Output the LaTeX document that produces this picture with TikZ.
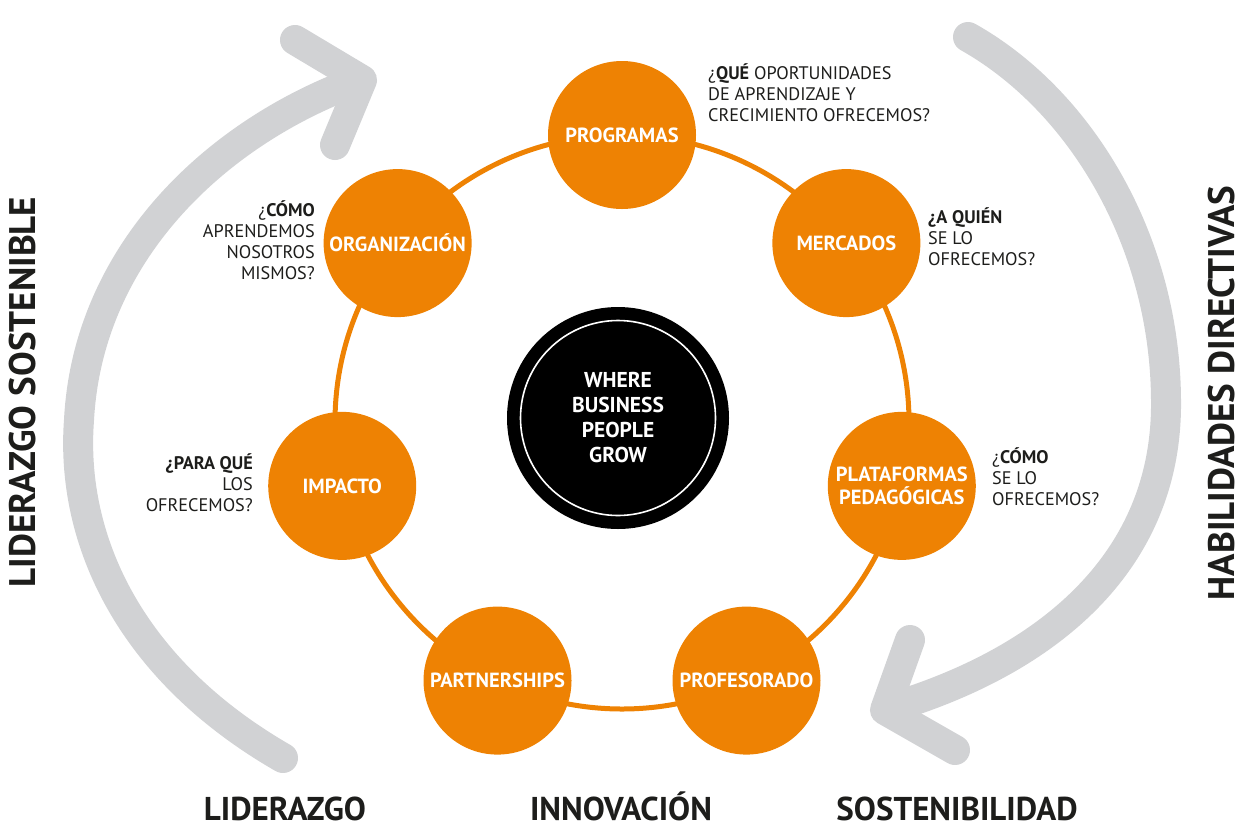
\documentclass[tikz,border=0pt]{standalone}
\usepackage{fontspec}
\setmainfont{PT Sans}
\definecolor{naranja}{HTML}{EE8203}
\definecolor{gris}{HTML}{D1D2D4}
\definecolor{tinta}{HTML}{1D1D1B}

\begin{document}
\begin{tikzpicture}[x=1pt,y=-1pt,
    flecha/.style={draw=gris,line width=30pt,line cap=round,line join=round},
    eje/.style={circle,fill=naranja,minimum size=148pt,inner sep=0pt,text=white,
        font=\bfseries\fontsize{20.5}{23}\selectfont,align=center},
    pregunta/.style={inner sep=0pt,text=tinta,font=\fontsize{18.2}{21}\selectfont},
    lema/.style={inner sep=0pt,text=tinta,font=\bfseries\fontsize{37}{37}\selectfont},
    base/.style={lema,anchor=base,text depth=0pt,font=\bfseries\fontsize{33}{33}\selectfont}]
    \useasboundingbox (0,0) rectangle (1245,831);
    % flechas grises
    \draw[flecha](283,758)..controls(130,670)and(70,540)..(79,420)
        ..controls(88,250)and(220,130)..(360,80);
    \draw[flecha](295,40)--(362,80)--(335,145);
    \draw[flecha](968,37)..controls(1080,100)and(1165,240)..(1166,400)
        ..controls(1168,560)and(1050,660)..(890,708);
    \draw[flecha](910,640)--(885,710)--(955,750);
    % anillo
    \coordinate (c) at (622,422);
    \draw[naranja,line width=5pt] (c) circle (287);
    \node[circle,fill=black,minimum size=222pt,inner sep=0pt] (core) at (618,418) {};
    \draw[white,line width=1.6pt] (core.center) circle (97.5);
    \node[text=white,align=center,font=\bfseries\fontsize{21.5}{25}\selectfont] (lema) at (core)
        {WHERE\\BUSINESS\\PEOPLE\\GROW};
    % nodos
    \node[eje] (prog) at ([shift={(-90:287)}]c) {PROGRAMAS};
    \node[eje] (merc) at ([shift={(-38.57:287)}]c) {MERCADOS};
    \node[eje] (plat) at ([shift={(12.86:287)}]c) {PLATAFORMAS\\PEDAGÓGICAS};
    \node[eje] (prof) at ([shift={(64.29:287)}]c) {PROFESORADO};
    \node[eje] (part) at ([shift={(115.71:287)}]c) {PARTNERSHIPS};
    \node[eje] (imp) at ([shift={(167.14:287)}]c) {IMPACTO};
    \node[eje] (org) at ([shift={(218.57:287)}]c) {ORGANIZACIÓN};
    % preguntas
    \node[pregunta,anchor=west,align=left] (qprog) at (708,93)
        {¿\textbf{QUÉ} OPORTUNIDADES\\DE APRENDIZAJE Y\\CRECIMIENTO OFRECEMOS?};
    \node[pregunta,anchor=west,align=left] (qmerc) at (928,237)
        {\textbf{¿A QUIÉN}\\SE LO\\OFRECEMOS?};
    \node[pregunta,anchor=west,align=left] (qplat) at (992,477)
        {¿\textbf{CÓMO}\\SE LO\\OFRECEMOS?};
    \node[pregunta,anchor=east,align=right] (qimp) at (253,483)
        {\textbf{¿PARA QUÉ}\\LOS\\OFRECEMOS?};
    \node[pregunta,anchor=east,align=right] (qorg) at (315,240)
        {¿\textbf{CÓMO}\\APRENDEMOS\\NOSOTROS\\MISMOS?};
    % lemas laterales
    \node[lema,rotate=90] (izq) at (23,392) {LIDERAZGO SOSTENIBLE};
    \node[lema,rotate=90] (der) at (1222,393) {HABILIDADES DIRECTIVAS};
    \node[base] (lid) at (285,820) {LIDERAZGO};
    \node[base] (inn) at (621,820) {INNOVACIÓN};
    \node[base] (sos) at (957,820) {SOSTENIBILIDAD};
\end{tikzpicture}
\end{document}
